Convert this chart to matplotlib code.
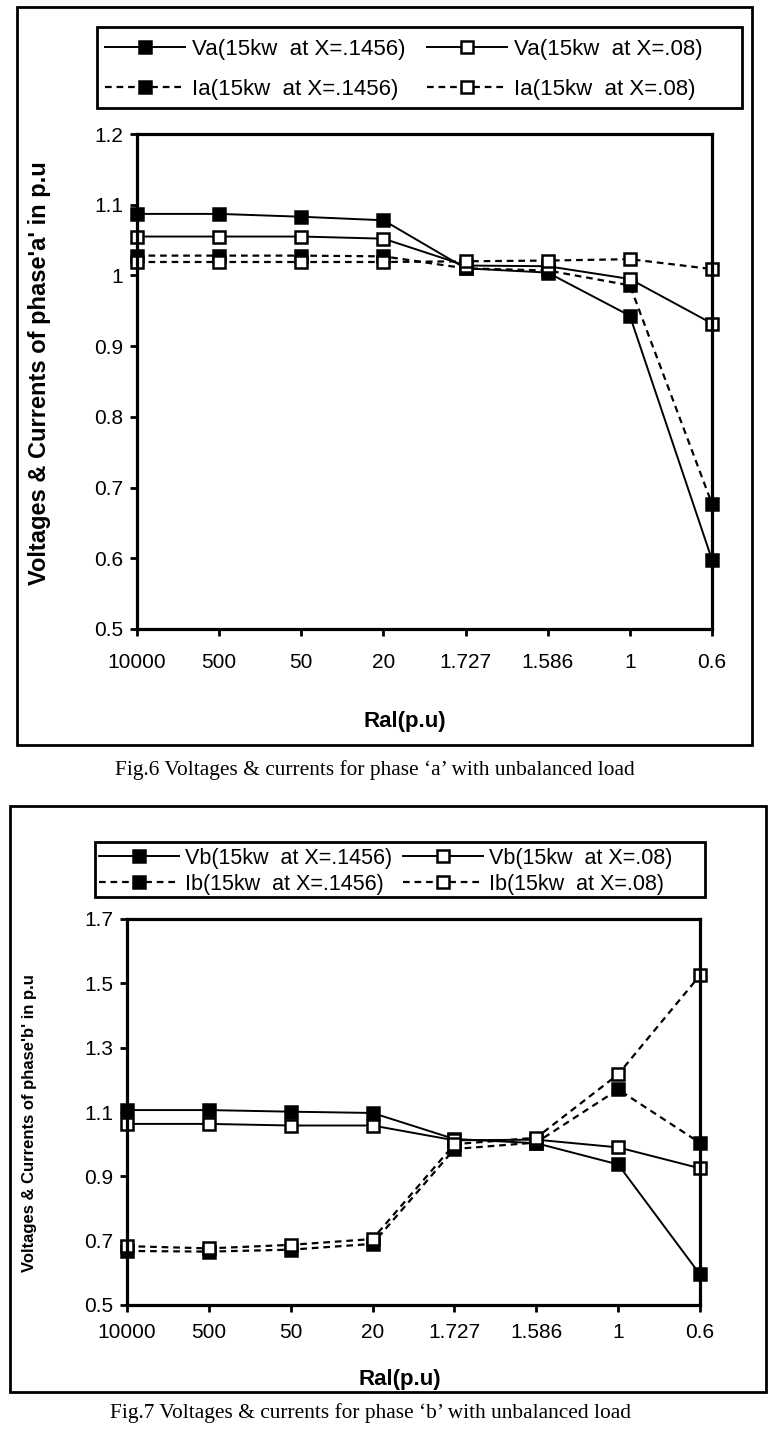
import matplotlib
matplotlib.use("Agg")
import matplotlib.pyplot as plt
from matplotlib.patches import Rectangle

plt.rcParams['font.family'] = ['Liberation Sans', 'DejaVu Sans']

categories = ["10000", "500", "50", "20", "1.727", "1.586", "1", "0.6"]

# Fig.6 phase a
va_1456 = [1.087, 1.087, 1.083, 1.078, 1.010, 1.004, 0.943, 0.598]
va_08 = [1.055, 1.055, 1.055, 1.052, 1.014, 1.013, 0.995, 0.932]
ia_1456 = [1.028, 1.028, 1.028, 1.027, 1.010, 1.007, 0.986, 0.677]
ia_08 = [1.019, 1.019, 1.019, 1.019, 1.020, 1.021, 1.023, 1.009]

# Fig.7 phase b
vb_1456 = [1.106, 1.106, 1.101, 1.097, 1.016, 1.003, 0.937, 0.595]
vb_08 = [1.063, 1.063, 1.058, 1.058, 1.012, 1.014, 0.990, 0.925]
ib_1456 = [0.668, 0.666, 0.672, 0.690, 0.985, 1.005, 1.170, 1.004]
ib_08 = [0.683, 0.676, 0.687, 0.705, 1.000, 1.020, 1.217, 1.525]

labels_a = ["Va(15kw  at X=.1456)", "Ia(15kw  at X=.1456)",
            "Va(15kw  at X=.08)", "Ia(15kw  at X=.08)"]
labels_b = ["Vb(15kw  at X=.1456)", "Ib(15kw  at X=.1456)",
            "Vb(15kw  at X=.08)", "Ib(15kw  at X=.08)"]

W, H = 768, 1438
fig = plt.figure(figsize=(W / 100, H / 100), dpi=100)


def fx(x):
    return x / W


def fy(y):
    return 1 - y / H


def frame(x0, y0, x1, y1, lw=2.0):
    fig.add_artist(Rectangle((fx(x0), fy(y1)), fx(x1) - fx(x0), fy(y0) - fy(y1),
                             transform=fig.transFigure, fill=False,
                             edgecolor='black', linewidth=lw))


def draw_panel(rect, series, labels, ylim, yticks, yfmt, legend_box, leg_anchor,
               leg_opts, ylabel, ylabel_xy, ylabel_size, xlabel_xy, xpad,
               caption, caption_xy):
    ax = fig.add_axes(rect)
    xs = list(range(len(categories)))
    dash = (0, (3, 2.2))
    styles = [
        dict(linestyle='-', marker='s', mfc='black', mec='black'),
        dict(linestyle=dash, marker='s', mfc='black', mec='black'),
        dict(linestyle='-', marker='s', mfc='white', mec='black'),
        dict(linestyle=dash, marker='s', mfc='white', mec='black'),
    ]
    handles = []
    for ys, st, lab in zip(series, styles, labels):
        lw = 1.4 if st['linestyle'] == '-' else 1.6
        h, = ax.plot(xs, ys, color='black', linewidth=lw, markersize=9,
                     markeredgewidth=1.8, clip_on=False, label=lab, **st)
        handles.append(h)
    ax.set_xlim(0, len(categories) - 1)
    ax.set_ylim(*ylim)
    ax.set_yticks(yticks)
    ax.set_yticklabels([yfmt(v) for v in yticks])
    ax.set_xticks(xs)
    ax.set_xticklabels(categories)
    for s in ax.spines.values():
        s.set_linewidth(2.3)
    ax.tick_params(axis='both', direction='out', length=5, width=2.0,
                   labelsize=15)
    ax.tick_params(axis='x', pad=xpad)
    ax.tick_params(axis='y', pad=5)
    # legend box and entries
    frame(*legend_box)
    fig.legend(handles=handles, labels=labels, ncol=2, loc='upper left',
               bbox_to_anchor=(fx(leg_anchor[0]), fy(leg_anchor[1])),
               frameon=False, borderaxespad=0.0, borderpad=0.0, numpoints=1,
               **leg_opts)
    fig.text(fx(ylabel_xy[0]), fy(ylabel_xy[1]), ylabel, rotation=90,
             ha='center', va='center', fontsize=ylabel_size, fontweight='bold')
    fig.text(fx(xlabel_xy[0]), fy(xlabel_xy[1]), 'Ral(p.u)', ha='center',
             va='center', fontsize=16, fontweight='bold')
    fig.text(fx(caption_xy[0]), fy(caption_xy[1]), caption, ha='center',
             va='center', fontsize=15.4, family=['Liberation Serif', 'DejaVu Serif'])
    return ax


# Top panel
frame(17, 7, 752, 745)
draw_panel([fx(137), fy(629), fx(712) - fx(137), fy(134) - fy(629)],
           [va_1456, ia_1456, va_08, ia_08], labels_a,
           (0.5, 1.2), [0.5, 0.6, 0.7, 0.8, 0.9, 1.0, 1.1, 1.2],
           lambda v: '1' if abs(v - 1) < 1e-9 else f'{v:.1f}',
           (97, 27, 742, 108), (105, 39),
           dict(fontsize=16, handlelength=3.6, handletextpad=0.3,
                columnspacing=1.0, labelspacing=0.85),
           "Voltages & Currents of phase'a' in p.u", (40, 373), 17,
           (405, 721), 12,
           "Fig.6 Voltages & currents for phase \u2018a\u2019 with unbalanced load",
           (375, 770))

# Bottom panel
frame(10, 806, 766, 1392)
draw_panel([fx(127), fy(1305), fx(700) - fx(127), fy(919) - fy(1305)],
           [vb_1456, ib_1456, vb_08, ib_08], labels_b,
           (0.5, 1.7), [0.5, 0.7, 0.9, 1.1, 1.3, 1.5, 1.7],
           lambda v: f'{v:.1f}',
           (95, 842, 705, 897), (99, 848),
           dict(fontsize=15.5, handlelength=3.7, handletextpad=0.3,
                columnspacing=0.5, labelspacing=0.22),
           "Voltages & Currents of phase'b' in p.u", (30, 1123), 12,
           (400, 1379), 8,
           "Fig.7 Voltages & currents for phase \u2018b\u2019 with unbalanced load",
           (371, 1413))

fig.savefig('out.png', dpi=100)
